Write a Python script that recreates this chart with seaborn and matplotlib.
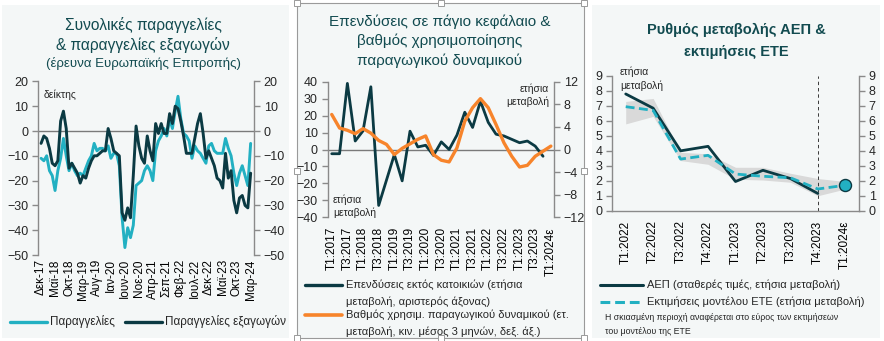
import matplotlib
matplotlib.use("Agg")
import matplotlib.pyplot as plt
from matplotlib.lines import Line2D
from matplotlib.patches import Rectangle
import numpy as np
import pandas as pd
import seaborn as sns

sns.set_style("white")
plt.rcParams["font.family"] = ["Liberation Sans", "DejaVu Sans"]

# ---------------- colours ----------------
DARK = "#0b3a43"
CYAN = "#22b0c2"
ORANGE = "#f7842b"
TITLE = "#124b50"
AXGREY = "#8a8a8a"
BAND = "#d9d9d9"
PANEL_BG = "#f4f7f7"

# ---------------- panel 1: EC survey orders (monthly, Dec-17 .. Mar-24) ----------------
orders = [-11, -12, -10, -16, -18, -24, -16, -11, -3, -10,
          -16, -13, -16, -18, -17, -18, -15, -12, -10, -5,
          -8, -7, -7, -8, -6, -11, -9, -9, -14, -35,
          -47, -39, -43, -38, -22, -21, -20, -16, -14, -16,
          -20, -8, -4, -2, 1, -2, 5, 1, 8, 14,
          5, -1, -2, -4, -11, -6, -8, -9, -11, -13,
          -6, -5, -8, -9, -9, -9, -3, -7, -10, -17,
          -22, -17, -14, -18, -22, -5]
export_orders = [-5, -2, -3, -7, -13, -14, -12, 4, 8, 1,
                 -15, -13, -15, -17, -21, -18, -19, -15, -12, -10,
                 -10, -9, -8, -8, 1, -3, -8, -9, -10, -33,
                 -36, -31, -35, -18, 2, -6, -11, -13, -2, -8,
                 -12, 3, -1, 3, -1, -1, 7, 3, 10, 9,
                 4, -2, -9, -9, -9, -3, 3, 7, -1, -11,
                 -8, -11, -14, -19, -20, -23, -9, -19, -16, -28,
                 -33, -27, -26, -30, -31, -17]
p1_ticklabels = ["Δεκ-17", "Μαϊ-18", "Οκτ-18", "Μαρ-19", "Αυγ-19", "Ιαν-20",
                 "Ιουν-20", "Νοε-20", "Απρ-21", "Σεπ-21", "Φεβ-22", "Ιουλ-22",
                 "Δεκ-22", "Μαϊ-23", "Οκτ-23", "Μαρ-24"]

# ---------------- panel 2: investment & capacity utilisation (quarterly, Q1-2017 .. Q1-2024e) ----------------
investment = [-2.5, -2.5, 39, 5, 11, 37, -33, -18, -3, -18.5,
              10.8, 1.5, 2.5, -3.5, 4.5, 0, 8.5, 22, 13, 28.5,
              16, 9, 8, 6, 4, 5, 2, -4]
capacity_util = [6.2, 3.8, 3.4, 2.8, 3.7, 2.9, 1.6, 0.9, -0.9, 0.2,
                 1.0, 1.8, 2.4, -0.9, -1.9, -2.2, 0.3, 5.0, 7.4, 9.0,
                 7.4, 4.4, 1.2, -1.2, -3.1, -2.8, -1.2, -0.3, 0.6]
p2_ticklabels = ["Τ1:2017", "Τ3:2017", "Τ1:2018", "Τ3:2018", "Τ1:2019",
                 "Τ3:2019", "Τ1:2020", "Τ3:2020", "Τ1:2021", "Τ3:2021",
                 "Τ1:2022", "Τ3:2022", "Τ1:2023", "Τ3:2023", "Τ1:2024ε"]

# ---------------- panel 3: GDP growth & nowcasts ----------------
p3_quarters = ["Τ1:2022", "Τ2:2022", "Τ3:2022", "Τ4:2022", "Τ1:2023",
               "Τ2:2023", "Τ3:2023", "Τ4:2023", "Τ1:2024ε"]
gdp = [7.8, 6.85, 4.0, 4.3, 1.95, 2.7, 2.15, 1.15]
ete_estimate = [6.95, 6.7, 3.45, 3.7, 2.45, 2.3, 2.2, 1.45, 1.7]
ete_low = [5.8, 6.3, 3.35, 3.1, 2.1, 2.05, 1.9, 1.0, 1.45]
ete_high = [7.3, 7.5, 3.9, 3.8, 2.9, 2.9, 2.5, 2.15, 1.95]

W, H = 884, 341
fig = plt.figure(figsize=(W / 100, H / 100), dpi=100)


def fx(x):
    return x / W


def fy(y):
    return 1 - y / H


def axes_px(left, top, right, bottom):
    return fig.add_axes([fx(left), fy(bottom), (right - left) / W, (bottom - top) / H])


# panel backgrounds
fig.patches.append(Rectangle((fx(2), fy(338)), fx(287), 333 / H, transform=fig.transFigure,
                             facecolor=PANEL_BG, edgecolor="none", zorder=-2))
fig.patches.append(Rectangle((fx(297), fy(338)), fx(287), 335 / H, transform=fig.transFigure,
                             facecolor=PANEL_BG, edgecolor="#9a9a9a", lw=0.8, zorder=-2))
fig.patches.append(Rectangle((fx(592), fy(338)), fx(288), 333 / H, transform=fig.transFigure,
                             facecolor=PANEL_BG, edgecolor="none", zorder=-2))
# selection handles around the middle panel
for hx in (297, 440.5, 584):
    for hy in (3, 170.5, 338):
        if hx == 440.5 and hy == 170.5:
            continue
        fig.patches.append(Rectangle((fx(hx - 3), fy(hy + 3)), 6 / W, 6 / H, transform=fig.transFigure,
                                     facecolor="white", edgecolor="#9a9a9a", lw=0.7, zorder=-1))


def style_axis(ax, right=False, bottom=False):
    ax.set_facecolor("none")
    for s in ("top", "bottom", "left", "right"):
        ax.spines[s].set_visible(False)
    side = "right" if right else "left"
    ax.spines[side].set_visible(True)
    ax.spines[side].set_color(AXGREY)
    ax.spines[side].set_linewidth(1.0)
    if bottom:
        ax.spines["bottom"].set_visible(True)
        ax.spines["bottom"].set_color(AXGREY)
        ax.spines["bottom"].set_linewidth(1.0)
    ax.set_xlabel("")
    ax.set_ylabel("")


# ================= panel 1 =================
ax1 = axes_px(38, 81.4, 254, 255)
df1 = pd.DataFrame({"month": np.arange(len(orders)),
                    "orders": orders, "export_orders": export_orders})
ax1.axhline(0, color="#7a7a7a", lw=1.0, zorder=1)
sns.lineplot(data=df1, x="month", y="orders", ax=ax1, color=CYAN, lw=2.1, zorder=2)
sns.lineplot(data=df1, x="month", y="export_orders", ax=ax1, color=DARK, lw=2.1, zorder=3)
ax1.set_xlim(-1.1, 76.2)
ax1.set_ylim(-50, 20)
ax1.set_yticks(range(-50, 21, 10))
ax1.set_xticks(range(0, len(orders), 5))
ax1.set_xticklabels(p1_ticklabels, rotation=90)
style_axis(ax1)
ax1.tick_params(axis="x", length=0, pad=3, labelsize=8.5, colors="black")
ax1.tick_params(axis="y", length=4, width=1, color=AXGREY, labelsize=9, pad=3, direction="out")
ax1r = ax1.twinx()
ax1r.set_ylim(-50, 20)
ax1r.set_yticks(range(-50, 21, 10))
style_axis(ax1r, right=True)
ax1r.tick_params(axis="y", length=4, width=1, color=AXGREY, labelsize=9, pad=3, direction="out")
ax1.text(0.025, 0.955, "δείκτης", transform=ax1.transAxes, fontsize=7.5, va="top", ha="left")

fig.text(fx(143), fy(25), "Συνολικές παραγγελίες", ha="center", va="center", fontsize=11.2, color=TITLE)
fig.text(fx(143), fy(45), "& παραγγελίες εξαγωγών", ha="center", va="center", fontsize=11.2, color=TITLE)
fig.text(fx(143), fy(64), "(έρευνα Ευρωπαϊκής Επιτροπής)", ha="center", va="center", fontsize=9.5, color=TITLE)

# legend
fig.add_artist(Line2D([fx(10), fx(47)], [fy(322), fy(322)], color=CYAN, lw=2.4))
fig.text(fx(50), fy(322), "Παραγγελίες", ha="left", va="center", fontsize=8.4)
fig.add_artist(Line2D([fx(125), fx(162)], [fy(322), fy(322)], color=DARK, lw=2.4))
fig.text(fx(165), fy(322), "Παραγγελίες εξαγωγών", ha="left", va="center", fontsize=8.4)

# ================= panel 2 =================
ax2 = axes_px(327.5, 81.7, 554, 217.3)
df2a = pd.DataFrame({"q": np.arange(len(investment)), "investment": investment})
df2b = pd.DataFrame({"q": np.arange(len(capacity_util)), "capacity_util": capacity_util})
ax2.axhline(0, color="#7a7a7a", lw=1.0, zorder=1)
sns.lineplot(data=df2a, x="q", y="investment", ax=ax2, color=DARK, lw=2.0, zorder=3)
ax2.set_xlim(-0.54, 28.4)
ax2.set_ylim(-40, 40)
ax2.set_yticks(range(-40, 41, 10))
ax2.set_xticks(range(0, len(capacity_util), 2))
ax2.set_xticklabels(p2_ticklabels, rotation=90)
style_axis(ax2)
ax2.tick_params(axis="x", length=0, pad=7, labelsize=8.5, colors="black")
ax2.tick_params(axis="y", length=4, width=1, color=AXGREY, labelsize=9, pad=3, direction="out")
ax2r = ax2.twinx()
sns.lineplot(data=df2b, x="q", y="capacity_util", ax=ax2r, color=ORANGE, lw=2.4, zorder=3)
ax2r.set_ylim(-12, 12)
ax2r.set_yticks(range(-12, 13, 4))
style_axis(ax2r, right=True)
ax2r.tick_params(axis="y", length=4, width=1, color=AXGREY, labelsize=9, pad=3, direction="out")
ax2.text(fx(333), fy(200), "ετήσια", transform=fig.transFigure, fontsize=7.5, ha="left", va="center")
ax2.text(fx(333), fy(213), "μεταβολή", transform=fig.transFigure, fontsize=7.5, ha="left", va="center")
ax2.text(fx(549), fy(89), "ετήσια", transform=fig.transFigure, fontsize=7.5, ha="right", va="center")
ax2.text(fx(549), fy(102), "μεταβολή", transform=fig.transFigure, fontsize=7.5, ha="right", va="center")

fig.text(fx(440), fy(22), "Επενδύσεις σε πάγιο κεφάλαιο &", ha="center", va="center", fontsize=11, color=TITLE)
fig.text(fx(440), fy(41), "βαθμός χρησιμοποίησης", ha="center", va="center", fontsize=11, color=TITLE)
fig.text(fx(440), fy(61), "παραγωγικού δυναμικού", ha="center", va="center", fontsize=11, color=TITLE)

fig.add_artist(Line2D([fx(305), fx(342)], [fy(285), fy(285)], color=DARK, lw=2.4))
fig.text(fx(346), fy(285), "Επενδύσεις εκτός κατοικιών (ετήσια", ha="left", va="center", fontsize=8)
fig.text(fx(346), fy(302), "μεταβολή, αριστερός άξονας)", ha="left", va="center", fontsize=8)
fig.add_artist(Line2D([fx(305), fx(342)], [fy(315), fy(315)], color=ORANGE, lw=2.6))
fig.text(fx(346), fy(315), "Βαθμός χρησιμ. παραγωγικού δυναμικού (ετ.", ha="left", va="center", fontsize=8)
fig.text(fx(346), fy(332), "μεταβολή, κιν. μέσος 3 μηνών, δεξ. άξ.)", ha="left", va="center", fontsize=8)

# ================= panel 3 =================
ax3 = axes_px(612, 76, 859, 210.7)
xq = np.arange(len(p3_quarters))
ax3.fill_between(xq, ete_low, ete_high, color=BAND, lw=0, zorder=1)
df3a = pd.DataFrame({"q": np.arange(len(gdp)), "gdp": gdp})
df3b = pd.DataFrame({"q": xq, "ete": ete_estimate})
ax3.axvline(7, color="#3a3a3a", lw=0.7, ls=(0, (3.5, 3)), zorder=2)
sns.lineplot(data=df3a, x="q", y="gdp", ax=ax3, color=DARK, lw=2.0, zorder=3)
sns.lineplot(data=df3b, x="q", y="ete", ax=ax3, color=CYAN, lw=2.0, ls=(0, (3.2, 1.6)), zorder=4)
sns.scatterplot(x=[xq[-1]], y=[ete_estimate[-1]], ax=ax3, s=75, color=CYAN,
                edgecolor=DARK, linewidth=1.0, zorder=5)
ax3.set_xlim(-0.5, 8.5)
ax3.set_ylim(0, 9)
ax3.set_yticks(range(0, 10))
ax3.set_xticks(xq)
ax3.set_xticklabels(p3_quarters, rotation=90)
style_axis(ax3, bottom=True)
ax3.tick_params(axis="x", length=0, pad=7, labelsize=8.5, colors="black")
ax3.tick_params(axis="y", length=4, width=1, color=AXGREY, labelsize=9, pad=3, direction="out")
ax3r = ax3.twinx()
ax3r.set_ylim(0, 9)
ax3r.set_yticks(range(0, 10))
style_axis(ax3r, right=True)
ax3r.tick_params(axis="y", length=4, width=1, color=AXGREY, labelsize=9, pad=3, direction="out")
ax3.text(fx(620), fy(72), "ετήσια", transform=fig.transFigure, fontsize=7.5, ha="left", va="center")
ax3.text(fx(620), fy(86), "μεταβολή", transform=fig.transFigure, fontsize=7.5, ha="left", va="center")

fig.text(fx(736), fy(30), "Ρυθμός μεταβολής ΑΕΠ &", ha="center", va="center", fontsize=10.5,
         fontweight="bold", color=TITLE)
fig.text(fx(736), fy(52), "εκτιμήσεις ΕΤΕ", ha="center", va="center", fontsize=10.5,
         fontweight="bold", color=TITLE)

fig.add_artist(Line2D([fx(600), fx(643)], [fy(285), fy(285)], color=DARK, lw=2.2))
fig.text(fx(647), fy(285), "ΑΕΠ (σταθερές τιμές, ετήσια μεταβολή)", ha="left", va="center", fontsize=8)
fig.add_artist(Line2D([fx(600), fx(643)], [fy(302), fy(302)], color=CYAN, lw=2.2, ls=(0, (3.2, 1.6))))
fig.text(fx(647), fy(302), "Εκτιμήσεις μοντέλου ΕΤΕ (ετήσια μεταβολή)", ha="left", va="center", fontsize=8)
fig.text(fx(605), fy(318), "Η σκιασμένη περιοχή αναφέρεται στο εύρος των εκτιμήσεων",
         ha="left", va="center", fontsize=6.3)
fig.text(fx(605), fy(331), "του μοντέλου της ΕΤΕ", ha="left", va="center", fontsize=6.3)

fig.savefig("out.png", dpi=100)
